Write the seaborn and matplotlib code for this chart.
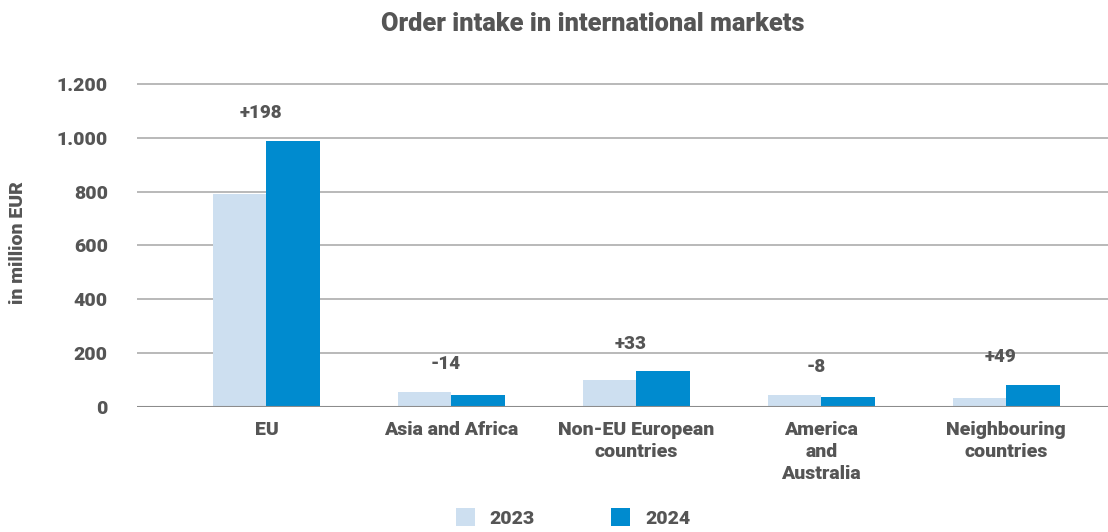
import matplotlib
matplotlib.use("Agg")
import matplotlib.pyplot as plt
import seaborn as sns
import pandas as pd
from matplotlib.patches import Patch

# Order intake by region, in million EUR
regions = ["EU", "Asia and Africa", "Non-EU European\ncountries",
           "America\nand\nAustralia", "Neighbouring\ncountries"]
intake_2023 = [790, 57, 99, 45, 33]
intake_2024 = [988, 43, 132, 37, 82]
years = ["2023", "2024"]
y_ticks = [0, 200, 400, 600, 800, 1000, 1200]
y_tick_labels = ["0", "200", "400", "600", "800", "1.000", "1.200"]

colors = {"2023": "#cddff0", "2024": "#008bcf"}
text_color = "#555555"
weight = 900

sns.set_theme(style="white")
plt.rcParams["font.family"] = ["Roboto", "DejaVu Sans"]
plt.rcParams["font.weight"] = weight

df = pd.DataFrame({
    "region": regions * 2,
    "year": [years[0]] * len(regions) + [years[1]] * len(regions),
    "value": intake_2023 + intake_2024,
})

fig = plt.figure(figsize=(11.08, 5.32), dpi=100)
px = 1 / 532
ax = fig.add_axes([137 / 1108, 1 - 407 * px, 1 - 137 / 1108, (407 - 78.6) * px])

sns.barplot(data=df, x="region", y="value", hue="year", palette=colors,
            width=0.58, gap=0, saturation=1, legend=False, ax=ax, zorder=2,
            linewidth=0)

ax.set_ylim(0, 1220)
ax.set_xlim(-0.70, 4.55)
ax.set_yticks(y_ticks)
ax.set_yticklabels(y_tick_labels)
ax.yaxis.grid(True, color="#b3b3b3", linewidth=1.3)
ax.set_axisbelow(True)
ax.axhline(0, color="#8c8c8c", linewidth=1.5, zorder=3)
for s in ax.spines.values():
    s.set_visible(False)

ax.tick_params(axis="y", length=0, pad=21, labelsize=14, labelcolor=text_color)
ax.tick_params(axis="x", length=0, pad=10, labelsize=14, labelcolor=text_color)
for lbl in ax.get_yticklabels() + ax.get_xticklabels():
    lbl.set_fontweight(weight)
for lbl in ax.get_xticklabels():
    lbl.set_multialignment("center")
    lbl.set_linespacing(1.3)
    lbl.set_verticalalignment("top")

ax.set_xlabel("")
ax.set_ylabel("in million EUR", fontsize=14, fontweight=weight,
              color=text_color, labelpad=0)
ax.yaxis.set_label_coords((27 - 137) / 971, 0.5)

# Year-over-year change above each region
for i, (a, b) in enumerate(zip(intake_2023, intake_2024)):
    delta = b - a
    ax.annotate(f"{delta:+d}", xy=(i, max(a, b)), xytext=(-4, 20),
                textcoords="offset points", ha="center", va="center",
                fontsize=13.5, fontweight=weight, color=text_color)

fig.text(593 / 1108, 1 - 24 * px, "Order intake in international markets",
         ha="center", va="center", fontsize=18.3, fontweight=weight,
         color=text_color)

handles = [Patch(facecolor=colors[y], edgecolor="none") for y in years]
fig.legend(handles, years, loc="center", bbox_to_anchor=(573 / 1108, 1 - 518 * px),
           ncol=2, frameon=False, handlelength=1.0, handleheight=1.0,
           handletextpad=0.75, columnspacing=3.9,
           prop={"size": 14, "weight": weight}, labelcolor=text_color)

fig.savefig("out.png", dpi=100)
